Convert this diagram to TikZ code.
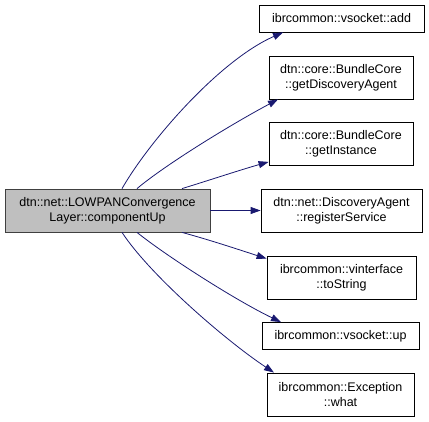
\documentclass[tikz,border=0pt]{standalone}
\usepackage{fontspec}
\setmainfont{Liberation Sans}
\usetikzlibrary{arrows.meta}
\definecolor{edgeblue}{HTML}{191970}
\definecolor{mainfill}{HTML}{BFBFBF}
\begin{document}
\begin{tikzpicture}[x=1pt,y=-1pt,
  box/.style={draw=black, line width=0.8pt, fill=white, inner sep=0pt, align=center,
    font=\fontsize{12.5}{15}\selectfont},
  mainbox/.style={box, fill=mainfill, draw=black!75},
  edge/.style={draw=edgeblue, line width=0.8pt, -{Triangle[length=10pt,width=7pt]}}]
\useasboundingbox (0,0) rectangle (429,421);
\node[mainbox, minimum width=205pt, minimum height=43pt] (main) at (107.5,210.5)
  {dtn::net::LOWPANConvergence\\Layer::componentUp};
\node[box, minimum width=165pt, minimum height=27pt] (b1) at (341.5,18.5) {ibrcommon::vsocket::add};
\node[box, minimum width=144pt, minimum height=43pt] (b2) at (341,77.5) {dtn::core::BundleCore\\::getDiscoveryAgent};
\node[box, minimum width=144pt, minimum height=43pt] (b3) at (341,144) {dtn::core::BundleCore\\::getInstance};
\node[box, minimum width=161pt, minimum height=43pt] (b4) at (341.5,210.5) {dtn::net::DiscoveryAgent\\::registerService};
\node[box, minimum width=149pt, minimum height=43pt] (b5) at (341.5,277.5) {ibrcommon::vinterface\\::toString};
\node[box, minimum width=157pt, minimum height=27pt] (b6) at (340.5,336) {ibrcommon::vsocket::up};
\node[box, minimum width=147pt, minimum height=43pt] (b7) at (340.5,394.5) {ibrcommon::Exception\\::what};

\draw[edge] ([xshift=14.5pt]main.north) .. controls (150,140) and (220,60) .. ([xshift=-58.5pt]b1.south);
\draw[edge] ([xshift=29.5pt]main.north) .. controls (165,165) and (230,125) .. ([xshift=-63pt]b2.south);
\draw[edge] ([xshift=74.5pt]main.north) .. controls (210,180) and (240,170) .. ([yshift=4pt]b3.south west);
\draw[edge] (main.east) -- (b4.west);
\draw[edge] ([xshift=74.5pt]main.south) .. controls (210,240) and (240,250) .. ([yshift=-3pt]b5.north west);
\draw[edge] ([xshift=29.5pt]main.south) .. controls (165,255) and (235,300) .. ([xshift=-59.5pt]b6.north);
\draw[edge] ([xshift=14.5pt]main.south) .. controls (150,275) and (225,340) .. ([xshift=-66.5pt]b7.north);
\end{tikzpicture}
\end{document}
